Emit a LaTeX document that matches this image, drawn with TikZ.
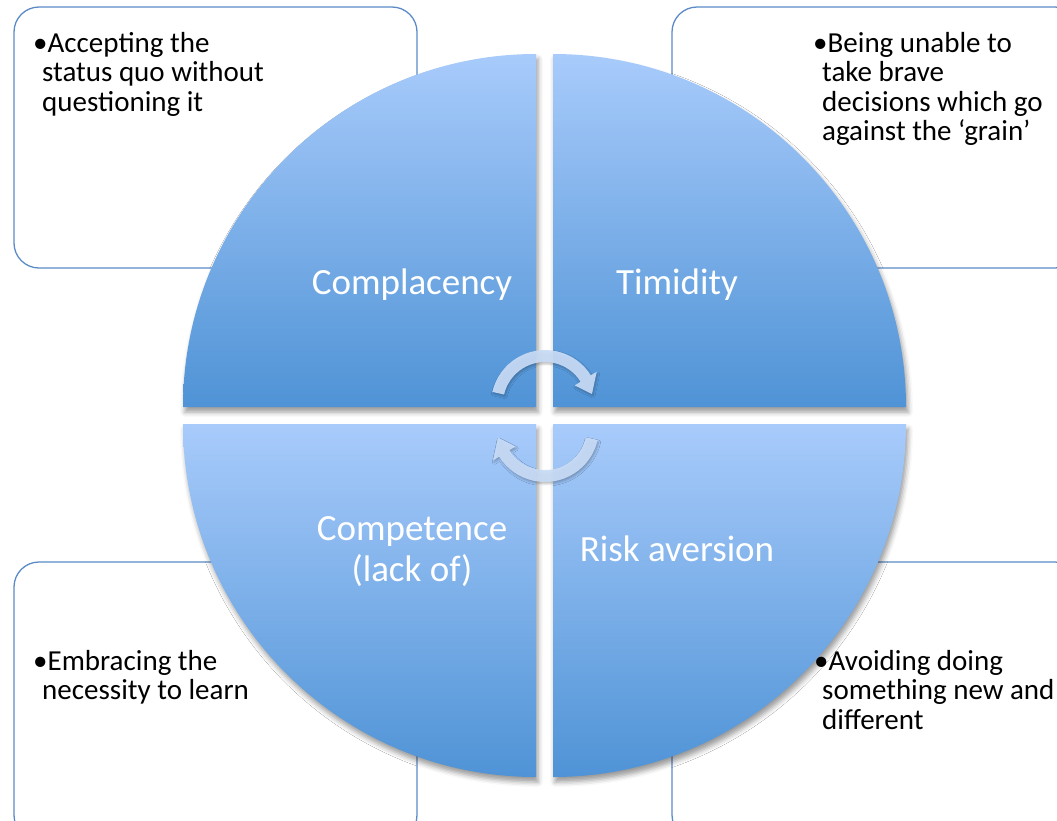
\documentclass[tikz,border=0pt]{standalone}
\usepackage{fontspec}
\setmainfont{Carlito}
\usetikzlibrary{shadows.blur}
\definecolor{qtop}{HTML}{A8CBFB}
\definecolor{qbot}{HTML}{4F93D6}
\definecolor{boxline}{HTML}{5B8BC7}
\definecolor{arrowblue}{HTML}{C9DCF6}
\newcommand{\boxfont}{\fontsize{29}{29.5}\selectfont}
\newcommand{\quadfont}{\fontsize{37}{41}\selectfont}

\begin{document}
\begin{tikzpicture}[x=1pt,y=-1pt]
	\tikzset{
	pics/quarter/.style args={#1}{code={
	\path[quadfill] (0,0) -- (#1:353) arc[start angle=#1,delta angle=90,radius=353] -- cycle;
	},
	}
	}
	\tikzset{
	pics/turn/.style={code={
	\path[turnfill] (193:54) arc[start angle=193,end angle=328,radius=54]
	-- (328:61) -- (348:48) -- (328:35) -- (328:42)
	arc[start angle=328,end angle=193,radius=42] -- cycle;
	},
	}
	}
	\tikzset{
	quadfill/.style={top color=qtop,bottom color=qbot,
	blur shadow={shadow xshift=2pt,shadow yshift=-5pt,shadow opacity=40,shadow blur radius=5pt}},
	turnfill/.style={fill=arrowblue,fill opacity=0.92,
	blur shadow={shadow xshift=1pt,shadow yshift=-2pt,shadow opacity=25,shadow blur radius=2pt}},
	boxframe/.style={draw=boxline,line width=1.3pt,rounded corners=25pt,fill=white},
	boxtext/.style={anchor=base west,align=left,inner sep=0pt,font=\boxfont},
	quadtext/.style={anchor=base,align=center,inner sep=0pt,text=white,font=\quadfont},
	}

	\path[use as bounding box] (0,0) rectangle (1057,820);
	\clip (0,0) rectangle (1057,820);

	%BOXES
	\draw[boxframe] (14,7) rectangle (417,268);
	\draw[boxframe] (672,7) rectangle (1080,268);
	\draw[boxframe] (14,562) rectangle (417,840);
	\draw[boxframe] (672,562) rectangle (1080,840);

	% base = last line
	\node[boxtext] (accept) at (33,111) {•Accepting the\\\hspace*{9pt}status quo without\\\hspace*{9pt}questioning it};
	\node[boxtext] (brave) at (813,140.5) {•Being unable to\\\hspace*{9pt}take brave\\\hspace*{9pt}decisions which go\\\hspace*{9pt}against the ‘grain’};
	\node[boxtext] (learn) at (33,699.5) {•Embracing the\\\hspace*{9pt}necessity to learn};
	\node[boxtext] (avoid) at (814,729) {•Avoiding doing\\\hspace*{8pt}something new and\\\hspace*{8pt}different};

	%CIRCLE
	\path (536,407) pic {quarter={180}};
	\path (553,407) pic {quarter={270}};
	\path (553,424) pic {quarter={0}};
	\path (536,424) pic {quarter={90}};

	\node[quadtext] (compl) at (412,294) {Complacency};
	\node[quadtext] (timid) at (677,294) {Timidity};
	\node[quadtext] (compt) at (412,581) {Competence\\(lack of)};
	\node[quadtext] (risk) at (677,561) {Risk aversion};

	%ARROWS
	\path (545,404) pic {turn};
	\path (545,428) pic[rotate=180] {turn};
\end{tikzpicture}
\end{document}
